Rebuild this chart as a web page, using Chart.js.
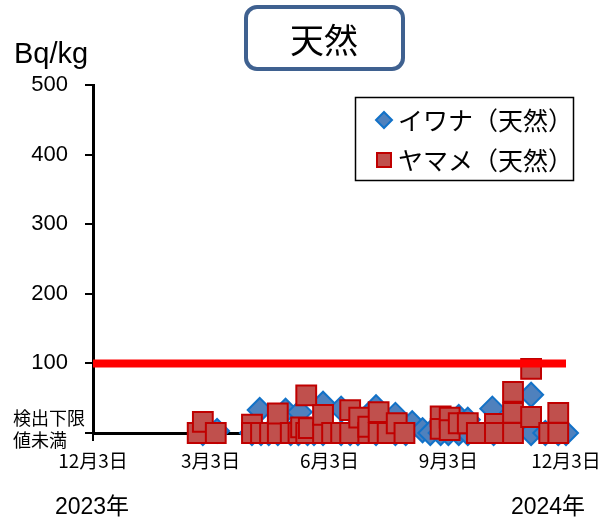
<!DOCTYPE html>
<html lang="ja">
<head>
<meta charset="utf-8">
<script src="https://cdn.jsdelivr.net/npm/chart.js@4.4.1/dist/chart.umd.min.js"></script>
<style>
  html, body { margin: 0; padding: 0; background: #fff; }
  #wrap { position: relative; width: 600px; height: 523px; }
</style>
</head>
<body>
<div id="wrap"><canvas id="chart" width="600" height="523"></canvas></div>
<script>
// days counted from 2023-12-03
const tickDays = [0, 91, 183, 275, 366];
const tickLabels = ['12月3日', '3月3日', '6月3日', '9月3日', '12月3日'];
const limitValue = 100;

// イワナ（天然） Bq/kg, 0 = 検出下限値未満
const iwanaDays = [85, 96, 123, 129, 130, 136, 143, 149, 153, 159,
  160, 166, 171, 178, 178, 192, 192, 199, 205, 219,
  219, 234, 234, 242, 247, 255, 261, 269, 275, 283,
  283, 290, 290, 309, 310, 339, 339, 350, 360, 366];
const iwanaValues = [0, 3, 0, 33, 0, 0, 0, 32, 0, 0,
  30, 0, 0, 42, 0, 35, 0, 0, 0, 37,
  0, 26, 0, 0, 14, 4, 0, 0, 0, 23,
  0, 19, 0, 35, 0, 55, 0, 0, 0, 0];

// ヤマメ（天然）
const yamameDays = [81, 85, 95, 123, 123, 130, 137, 143, 143, 153,
  159, 161, 165, 165, 167, 178, 178, 185, 192, 199,
  199, 206, 213, 213, 221, 221, 228, 235, 241, 269,
  269, 276, 276, 283, 290, 297, 311, 311, 325, 325,
  325, 339, 339, 353, 360, 360];
const yamameValues = [0, 16, 0, 12, 0, 0, 0, 0, 28, 0,
  0, 8, 0, 54, 7, 0, 26, 0, 0, 0,
  33, 22, 0, 9, 0, 30, 0, 14, 0, 24,
  6, 22, 4, 14, 14, 0, 13, 0, 59, 29,
  0, 92, 23, 0, 29, 0];

const LAT = "'Liberation Sans', 'Noto Sans CJK JP', sans-serif";
const JP = "'Noto Sans CJK JP', sans-serif";

const toPoints = (xs, ys) => xs.map((x, i) => ({ x: x, y: ys[i] }));

const overlay = {
  id: 'overlay',
  afterDraw(chart) {
    const ctx = chart.ctx;
    const y0 = chart.scales.y.getPixelForValue(0);
    ctx.save();

    // title box
    ctx.lineWidth = 4;
    ctx.strokeStyle = '#3f6190';
    ctx.beginPath();
    ctx.roundRect(246, 7, 157, 62, 11);
    ctx.stroke();
    ctx.fillStyle = '#000';
    ctx.font = '34px ' + JP;
    ctx.textAlign = 'center';
    ctx.textBaseline = 'middle';
    ctx.fillText('天然', 324, 40);

    // unit
    ctx.textAlign = 'left';
    ctx.textBaseline = 'alphabetic';
    ctx.font = '29px ' + LAT;
    ctx.fillText('Bq/kg', 14, 63);

    // label for zero
    ctx.textBaseline = 'middle';
    ctx.font = '18px ' + JP;
    ctx.fillText('検出下限', 13, y0 - 15);
    ctx.fillText('値未満', 13, y0 + 7);

    // years
    ctx.textAlign = 'center';
    ctx.font = '23px ' + LAT;
    ctx.fillText('2023年', 92, 508);
    ctx.fillText('2024年', 548, 508);

    // legend
    ctx.lineWidth = 1.5;
    ctx.strokeStyle = '#000';
    ctx.strokeRect(355.5, 97.5, 218, 83);
    ctx.lineWidth = 2;
    ctx.fillStyle = '#4f81bd';
    ctx.strokeStyle = '#1272c8';
    ctx.beginPath();
    ctx.moveTo(384, 112); ctx.lineTo(392, 120); ctx.lineTo(384, 128); ctx.lineTo(376, 120);
    ctx.closePath();
    ctx.fill(); ctx.stroke();
    ctx.fillStyle = '#c0504d';
    ctx.strokeStyle = '#c00000';
    ctx.fillRect(377, 153, 14, 14);
    ctx.strokeRect(377, 153, 14, 14);
    ctx.fillStyle = '#000';
    ctx.textAlign = 'left';
    ctx.font = '25px ' + JP;
    ctx.fillText('イワナ（天然）', 398, 120);
    ctx.fillText('ヤマメ（天然）', 398, 160);
    ctx.restore();
  }
};

new Chart(document.getElementById('chart'), {
  type: 'scatter',
  data: {
    datasets: [
      {
        type: 'line',
        label: 'limit',
        data: [{ x: tickDays[0], y: limitValue }, { x: tickDays[tickDays.length - 1], y: limitValue }],
        borderColor: '#ff0000',
        borderWidth: 8,
        pointRadius: 0,
        showLine: true,
        clip: false,
        order: 0
      },
      {
        label: 'イワナ（天然）',
        data: toPoints(iwanaDays, iwanaValues),
        pointStyle: 'rectRot',
        pointRadius: 12,
        backgroundColor: '#4f81bd',
        borderColor: '#1272c8',
        borderWidth: 2,
        clip: false,
        order: 2
      },
      {
        label: 'ヤマメ（天然）',
        data: toPoints(yamameDays, yamameValues),
        pointStyle: 'rect',
        pointRadius: 14,
        backgroundColor: '#c0504d',
        borderColor: '#c00000',
        borderWidth: 2,
        clip: false,
        order: 1
      }
    ]
  },
  options: {
    responsive: false,
    animation: false,
    events: [],
    layout: { padding: { top: 85, right: 34, left: 0, bottom: 0 } },
    plugins: {
      legend: { display: false },
      title: { display: false },
      tooltip: { enabled: false }
    },
    scales: {
      x: {
        type: 'linear',
        min: tickDays[0],
        max: tickDays[tickDays.length - 1],
        afterBuildTicks: s => { s.ticks = tickDays.map(v => ({ value: v })); },
        afterFit: s => { s.height = 90; s.paddingLeft = 0; s.paddingRight = 0; },
        grid: { drawOnChartArea: false, tickLength: 8, color: '#000', lineWidth: 2 },
        border: { color: '#000', width: 3 },
        ticks: {
          callback: (v, i) => tickLabels[i],
          color: '#000',
          font: { family: JP, size: 19 },
          padding: 8,
          maxRotation: 0,
          autoSkip: false
        }
      },
      y: {
        min: 0,
        max: 500,
        afterFit: s => { s.width = 93; s.paddingTop = 0; s.paddingBottom = 0; },
        grid: { drawOnChartArea: false, tickLength: 8, color: '#000', lineWidth: 2 },
        border: { color: '#000', width: 3 },
        ticks: {
          stepSize: 100,
          callback: v => (v === 0 ? '' : v),
          color: '#000',
          font: { family: LAT, size: 22 },
          padding: 17
        }
      }
    }
  },
  plugins: [overlay]
});
</script>
</body>
</html>
